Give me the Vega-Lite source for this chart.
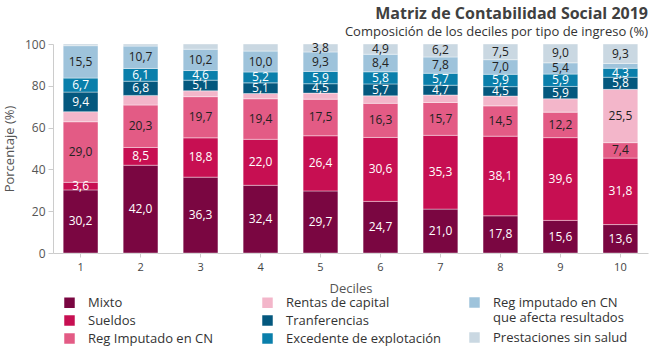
{
  "$schema": "https://vega.github.io/schema/vega-lite/v6.json",
  "width": 595,
  "height": 209,
  "autosize": {"type": "none"},
  "padding": {"left": 53, "top": 44, "right": 2, "bottom": 97},
  "background": "white",
  "title": {
    "text": "Matriz de Contabilidad Social 2019",
    "subtitle": "Composición de los deciles por tipo de ingreso (%)",
    "anchor": "end",
    "frame": "group",
    "fontSize": 16,
    "fontWeight": "bold",
    "color": "#404040",
    "subtitleFontSize": 13,
    "subtitleColor": "#333333",
    "subtitlePadding": 4,
    "offset": -1
  },
  "data": {
    "values": [
      {"d": 1, "tipo": "Mixto", "v": 30.2}, {"d": 1, "tipo": "Sueldos", "v": 3.6}, {"d": 1, "tipo": "Reg Imputado en CN", "v": 29.0}, {"d": 1, "tipo": "Rentas de capital", "v": 4.8}, {"d": 1, "tipo": "Tranferencias", "v": 9.4}, {"d": 1, "tipo": "Excedente de explotación", "v": 6.7}, {"d": 1, "tipo": "Reg imputado en CN que afecta resultados", "v": 15.5}, {"d": 1, "tipo": "Prestaciones sin salud", "v": 0.8},
      {"d": 2, "tipo": "Mixto", "v": 42.0}, {"d": 2, "tipo": "Sueldos", "v": 8.5}, {"d": 2, "tipo": "Reg Imputado en CN", "v": 20.3}, {"d": 2, "tipo": "Rentas de capital", "v": 4.6}, {"d": 2, "tipo": "Tranferencias", "v": 6.8}, {"d": 2, "tipo": "Excedente de explotación", "v": 6.1}, {"d": 2, "tipo": "Reg imputado en CN que afecta resultados", "v": 10.7}, {"d": 2, "tipo": "Prestaciones sin salud", "v": 1.0},
      {"d": 3, "tipo": "Mixto", "v": 36.3}, {"d": 3, "tipo": "Sueldos", "v": 18.8}, {"d": 3, "tipo": "Reg Imputado en CN", "v": 19.7}, {"d": 3, "tipo": "Rentas de capital", "v": 2.8}, {"d": 3, "tipo": "Tranferencias", "v": 5.1}, {"d": 3, "tipo": "Excedente de explotación", "v": 4.6}, {"d": 3, "tipo": "Reg imputado en CN que afecta resultados", "v": 10.2}, {"d": 3, "tipo": "Prestaciones sin salud", "v": 2.5},
      {"d": 4, "tipo": "Mixto", "v": 32.4}, {"d": 4, "tipo": "Sueldos", "v": 22.0}, {"d": 4, "tipo": "Reg Imputado en CN", "v": 19.4}, {"d": 4, "tipo": "Rentas de capital", "v": 2.5}, {"d": 4, "tipo": "Tranferencias", "v": 5.1}, {"d": 4, "tipo": "Excedente de explotación", "v": 5.2}, {"d": 4, "tipo": "Reg imputado en CN que afecta resultados", "v": 10.0}, {"d": 4, "tipo": "Prestaciones sin salud", "v": 3.4},
      {"d": 5, "tipo": "Mixto", "v": 29.7}, {"d": 5, "tipo": "Sueldos", "v": 26.4}, {"d": 5, "tipo": "Reg Imputado en CN", "v": 17.5}, {"d": 5, "tipo": "Rentas de capital", "v": 2.9}, {"d": 5, "tipo": "Tranferencias", "v": 4.5}, {"d": 5, "tipo": "Excedente de explotación", "v": 5.9}, {"d": 5, "tipo": "Reg imputado en CN que afecta resultados", "v": 9.3}, {"d": 5, "tipo": "Prestaciones sin salud", "v": 3.8},
      {"d": 6, "tipo": "Mixto", "v": 24.7}, {"d": 6, "tipo": "Sueldos", "v": 30.6}, {"d": 6, "tipo": "Reg Imputado en CN", "v": 16.3}, {"d": 6, "tipo": "Rentas de capital", "v": 3.6}, {"d": 6, "tipo": "Tranferencias", "v": 5.7}, {"d": 6, "tipo": "Excedente de explotación", "v": 5.8}, {"d": 6, "tipo": "Reg imputado en CN que afecta resultados", "v": 8.4}, {"d": 6, "tipo": "Prestaciones sin salud", "v": 4.9},
      {"d": 7, "tipo": "Mixto", "v": 21.0}, {"d": 7, "tipo": "Sueldos", "v": 35.3}, {"d": 7, "tipo": "Reg Imputado en CN", "v": 15.7}, {"d": 7, "tipo": "Rentas de capital", "v": 3.6}, {"d": 7, "tipo": "Tranferencias", "v": 4.7}, {"d": 7, "tipo": "Excedente de explotación", "v": 5.7}, {"d": 7, "tipo": "Reg imputado en CN que afecta resultados", "v": 7.8}, {"d": 7, "tipo": "Prestaciones sin salud", "v": 6.2},
      {"d": 8, "tipo": "Mixto", "v": 17.8}, {"d": 8, "tipo": "Sueldos", "v": 38.1}, {"d": 8, "tipo": "Reg Imputado en CN", "v": 14.5}, {"d": 8, "tipo": "Rentas de capital", "v": 4.7}, {"d": 8, "tipo": "Tranferencias", "v": 4.5}, {"d": 8, "tipo": "Excedente de explotación", "v": 5.9}, {"d": 8, "tipo": "Reg imputado en CN que afecta resultados", "v": 7.0}, {"d": 8, "tipo": "Prestaciones sin salud", "v": 7.5},
      {"d": 9, "tipo": "Mixto", "v": 15.6}, {"d": 9, "tipo": "Sueldos", "v": 39.6}, {"d": 9, "tipo": "Reg Imputado en CN", "v": 12.2}, {"d": 9, "tipo": "Rentas de capital", "v": 6.4}, {"d": 9, "tipo": "Tranferencias", "v": 5.9}, {"d": 9, "tipo": "Excedente de explotación", "v": 5.9}, {"d": 9, "tipo": "Reg imputado en CN que afecta resultados", "v": 5.4}, {"d": 9, "tipo": "Prestaciones sin salud", "v": 9.0},
      {"d": 10, "tipo": "Mixto", "v": 13.6}, {"d": 10, "tipo": "Sueldos", "v": 31.8}, {"d": 10, "tipo": "Reg Imputado en CN", "v": 7.4}, {"d": 10, "tipo": "Rentas de capital", "v": 25.5}, {"d": 10, "tipo": "Tranferencias", "v": 5.8}, {"d": 10, "tipo": "Excedente de explotación", "v": 4.3}, {"d": 10, "tipo": "Reg imputado en CN que afecta resultados", "v": 2.3}, {"d": 10, "tipo": "Prestaciones sin salud", "v": 9.3}
    ]
  },
  "transform": [
    {"calculate": "indexof(['Mixto','Sueldos','Reg Imputado en CN','Rentas de capital','Tranferencias','Excedente de explotación','Reg imputado en CN que afecta resultados','Prestaciones sin salud'], datum.tipo)", "as": "orden"},
    {"stack": "v", "groupby": ["d"], "sort": [{"field": "orden", "order": "ascending"}], "as": ["v0", "v1"]},
    {"calculate": "(datum.v0 + datum.v1) / 2", "as": "vm"},
    {"calculate": "replace(format(datum.v, '.1f'), '.', ',')", "as": "lab"}
  ],
  "layer": [
    {
      "mark": {"type": "bar", "stroke": "white", "strokeWidth": 0.4},
      "encoding": {
        "x": {"field": "d", "type": "ordinal", "scale": {"paddingInner": 0.42, "paddingOuter": 0.17},
          "axis": {"labelAngle": 0, "title": "Deciles", "titleColor": "#555555", "titleFontSize": 13, "titleFontWeight": "normal", "titlePadding": 10, "labelColor": "#444444", "labelFontSize": 11, "labelPadding": 4, "domainColor": "#cccccc", "tickColor": "#cccccc", "tickSize": 4}},
        "y": {"field": "v0", "type": "quantitative", "scale": {"domain": [0, 100]},
          "axis": {"values": [0, 10, 20, 30, 40, 50, 60, 70, 80, 90, 100], "title": "Porcentaje (%)", "titleColor": "#555555", "titleFontSize": 13, "titleFontWeight": "normal", "titlePadding": 8, "labelColor": "#555555", "labelFontSize": 12, "labelPadding": 3, "grid": false, "domainColor": "#cccccc", "tickColor": "#cccccc", "tickSize": 5}},
        "y2": {"field": "v1"},
        "color": {
          "field": "tipo", "type": "nominal",
          "scale": {
            "domain": ["Mixto", "Sueldos", "Reg Imputado en CN", "Rentas de capital", "Tranferencias", "Excedente de explotación", "Reg imputado en CN que afecta resultados", "Prestaciones sin salud"],
            "range": ["#7a0641", "#c70f52", "#e35b85", "#f3b6ca", "#04587e", "#0a7fab", "#9ec3db", "#cad8e2"]
          },
          "legend": {
            "values": ["Mixto", "Sueldos", "Reg Imputado en CN", "Rentas de capital", "Tranferencias", "Excedente de explotación"],
            "title": null, "orient": "none", "legendX": 10, "legendY": 252, "columns": 2,
            "columnPadding": 48, "rowPadding": 4, "symbolType": "square", "symbolSize": 110, "symbolStrokeWidth": 0,
            "labelFontSize": 13, "labelColor": "#333333", "labelOffset": 12, "labelLimit": 300
          }
        }
      }
    },
    {
      "transform": [{"filter": "datum.v >= 3.5 && (datum.tipo != 'Rentas de capital' || datum.v > 10)"}],
      "mark": {"type": "text", "fontSize": 12},
      "encoding": {
        "x": {"field": "d", "type": "ordinal"},
        "y": {"field": "vm", "type": "quantitative"},
        "text": {"field": "lab"},
        "color": {
          "condition": {"test": "indexof(['Mixto','Sueldos','Tranferencias','Excedente de explotación'], datum.tipo) >= 0", "value": "white"},
          "value": "#222222"
        }
      }
    },
    {
      "transform": [{"filter": "false"}],
      "mark": {"type": "bar"},
      "encoding": {
        "color": {
          "field": "tipo", "type": "nominal",
          "scale": {
            "domain": ["Reg imputado en CN que afecta resultados", "Prestaciones sin salud"],
            "range": ["#9ec3db", "#cad8e2"]
          },
          "legend": {
            "title": null, "orient": "none", "legendX": 415, "legendY": 252, "rowPadding": 6,
            "symbolType": "square", "symbolSize": 110, "symbolStrokeWidth": 0,
            "labelFontSize": 13, "labelColor": "#333333", "labelOffset": 12, "labelLimit": 300,
            "labelExpr": "datum.label == 'Reg imputado en CN que afecta resultados' ? ['Reg imputado en CN', 'que afecta resultados'] : datum.label"
          }
        }
      }
    }
  ],
  "resolve": {"scale": {"color": "independent"}, "legend": {"color": "independent"}},
  "config": {
    "font": "Open Sans",
    "view": {"stroke": null}
  }
}
